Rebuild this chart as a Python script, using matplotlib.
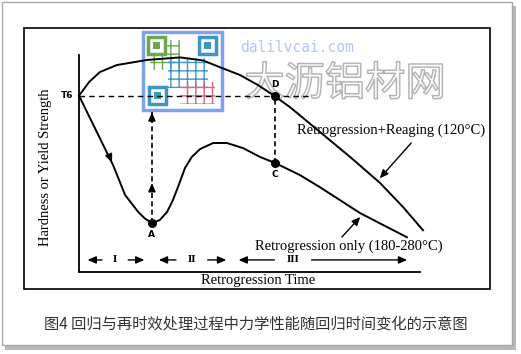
import matplotlib
matplotlib.use('Agg')
import matplotlib.pyplot as plt
import matplotlib.patches as mpatches
import matplotlib.patheffects as pe

# schematic data (arbitrary units: time 0-100, strength 0-100)
t6_level = 76
reage_t = [0, 3, 6.1, 11, 19.8, 29.4, 36, 41.6, 46.8, 52, 56.4, 61.3, 70.1, 78.8, 87.5, 94.2, 100]
reage_y = [76, 82, 86.2, 89.2, 91.4, 92.5, 91.2, 87.9, 84.9, 80.6, 76.3, 71.1, 60.3, 49.6, 38.4, 28, 18]
retro_t = [0, 9.9, 13.4, 17.2, 19.2, 21.2, 23.5, 25.6, 27.3, 29.1, 30.8, 32.8, 35.2, 39, 43,
           47.7, 52.6, 57, 64.2, 70.1, 81.7, 95.3]
retro_y = [76, 46.1, 33.2, 25.9, 23, 21.1, 22.4, 25.9, 31, 37.9, 44.8, 49.6, 53, 55.6, 55.6,
           53.4, 49.6, 47, 41.8, 36.5, 25.4, 15]
point_names = ['A', 'C', 'D']
point_t = [21.2, 57, 57]
point_y = [21.1, 47, 76]
regions = ['I', 'II', 'III']
region_start = [1.7, 22.4, 45.6]
region_mid = [10.5, 32.8, 62.2]
region_end = [19.8, 43.6, 96.2]

W, H = 521, 354
fig = plt.figure(figsize=(W / 100, H / 100), dpi=100)
fig.patch.set_facecolor('white')

# background layer in pixel coordinates for frames and watermark
bg = fig.add_axes([0, 0, 1, 1])
bg.set_xlim(0, W)
bg.set_ylim(H, 0)
bg.axis('off')
bg.add_patch(mpatches.Rectangle((5, 6), 511, 344, facecolor='#b8b8b8', edgecolor='none'))
bg.add_patch(mpatches.Rectangle((2, 2), 510, 343, facecolor='white', edgecolor='#a8a8a8', lw=1))
bg.add_patch(mpatches.Rectangle((24, 28), 466, 261, facecolor='white', edgecolor='black', lw=1.2))

serif = 'Liberation Serif'
ax = fig.add_axes([79 / W, 82 / H, 344 / W, 232 / H])
ax.set_xlim(0, 100)
ax.set_ylim(0, 100)
ax.patch.set_alpha(0)
for s in ['top', 'right']:
    ax.spines[s].set_visible(False)
ax.spines['left'].set_bounds(0, 93.5)
ax.spines['bottom'].set_bounds(0, 99)
ax.spines['left'].set_linewidth(1.3)
ax.spines['bottom'].set_linewidth(1.3)
ax.set_xticks([])
ax.set_yticks([])

ax.plot(reage_t, reage_y, color='black', lw=1.4, clip_on=False, solid_joinstyle='round')
ax.plot(retro_t, retro_y, color='black', lw=1.4, clip_on=False, solid_joinstyle='round')
ax.plot([0, 67], [t6_level, t6_level], color='black', lw=1, ls=(0, (4, 3)))
ax.plot([point_t[0], point_t[0]], [point_y[0], 69], color='black', lw=1.2, ls=(0, (3, 2)))
ax.plot([point_t[1], point_t[2]], [point_y[1], point_y[2]], color='black', lw=1.2, ls=(0, (3, 2)))
ax.scatter(point_t, point_y, s=30, color='black', zorder=5)

ax.text(-1.5, t6_level, 'T6', ha='right', va='center', fontsize=6.5, fontweight='bold')
offs = [(0, -5), (0, -5), (0, 5)]
for n, x, y, (dx, dy) in zip(point_names, point_t, point_y, offs):
    ax.text(x + dx, y + dy, n, ha='center', va='center', fontsize=6.5, fontweight='bold')

head = dict(arrowstyle='-|>,head_length=0.5,head_width=0.22', color='black', lw=1)
ax.annotate('', xy=(9.9, 46.1), xytext=(8.4, 51.5), arrowprops=head)
ax.annotate('', xy=(21.2, 70), xytext=(21.2, 66), arrowprops=head)
ax.annotate('', xy=(21.2, 39.5), xytext=(21.2, 35), arrowprops=head)

ax.text(63.4, 61.2, 'Retrogression+Reaging (120°C)', family=serif, fontsize=10.5,
        ha='left', va='center')
ax.annotate('', xy=(86.9, 39.5), xytext=(97.1, 56.5), arrowprops=head)
ax.text(51.2, 11.2, 'Retrogression only (180-280°C)', family=serif, fontsize=10.5,
        ha='left', va='center')
ax.annotate('', xy=(82.3, 24.6), xytext=(75.9, 14.2), arrowprops=head)

for lab, x0, xm, x1 in zip(regions, region_start, region_mid, region_end):
    gap = 2.2 + 0.8 * len(lab)
    ax.annotate('', xy=(x0, 5.2), xytext=(xm - gap, 5.2), arrowprops=head)
    ax.annotate('', xy=(x1, 5.2), xytext=(xm + gap, 5.2), arrowprops=head)
    ax.text(xm, 5.2, lab, family=serif, fontsize=8, fontweight='bold', ha='center', va='center')

ax.set_xlabel('Retrogression Time', family=serif, fontsize=10.5)
ax.xaxis.set_label_coords((258 - 79) / 344, -2 / 232)
ax.set_ylabel('Hardness or Yield Strength', family=serif, fontsize=10.5)
ax.yaxis.set_label_coords(-27 / 344, (272 - 167) / 232)

# watermark
bg.add_patch(mpatches.Rectangle((143, 32), 79, 78, facecolor='white', edgecolor='#7fa3ea', lw=2.5, zorder=10))
bg.add_patch(mpatches.Rectangle((150, 40), 30, 30, facecolor='none', edgecolor='#6aa84f', hatch='++', lw=0, zorder=11))
bg.add_patch(mpatches.Rectangle((168, 58), 40, 30, facecolor='none', edgecolor='#3d97c6', hatch='++', lw=0, zorder=11))
bg.add_patch(mpatches.Rectangle((180, 82), 35, 22, facecolor='none', edgecolor='#e0607e', hatch='++', lw=0, zorder=11))
for (fx, fy, c) in [(148, 37, '#6aa84f'), (199, 37, '#3d97c6'), (149, 87, '#3d97c6')]:
    bg.add_patch(mpatches.Rectangle((fx, fy), 17, 17, facecolor='white', edgecolor=c, lw=2.5, zorder=12))
    bg.add_patch(mpatches.Rectangle((fx + 5, fy + 5), 7, 7, facecolor=c, edgecolor='none', zorder=12))
bg.text(240, 47, 'dalilvcai.com', family='DejaVu Sans Mono', fontsize=10.5, color='#b4c6f2',
        ha='left', va='center', zorder=12)
bg.text(345, 84, '大沥铝材网', family=['Noto Sans CJK SC', 'DejaVu Sans'], fontsize=29,
        color=(1, 1, 1, 0.3), ha='center', va='center', zorder=12,
        path_effects=[pe.Stroke(linewidth=1.1, foreground='#a8a8a8'), pe.Normal()])

bg.text(256, 324, '图4 回归与再时效处理过程中力学性能随回归时间变化的示意图',
        family=['Noto Sans CJK SC', 'DejaVu Sans'], fontsize=11, color='#333333',
        ha='center', va='center')

fig.savefig('out.png', dpi=100)
